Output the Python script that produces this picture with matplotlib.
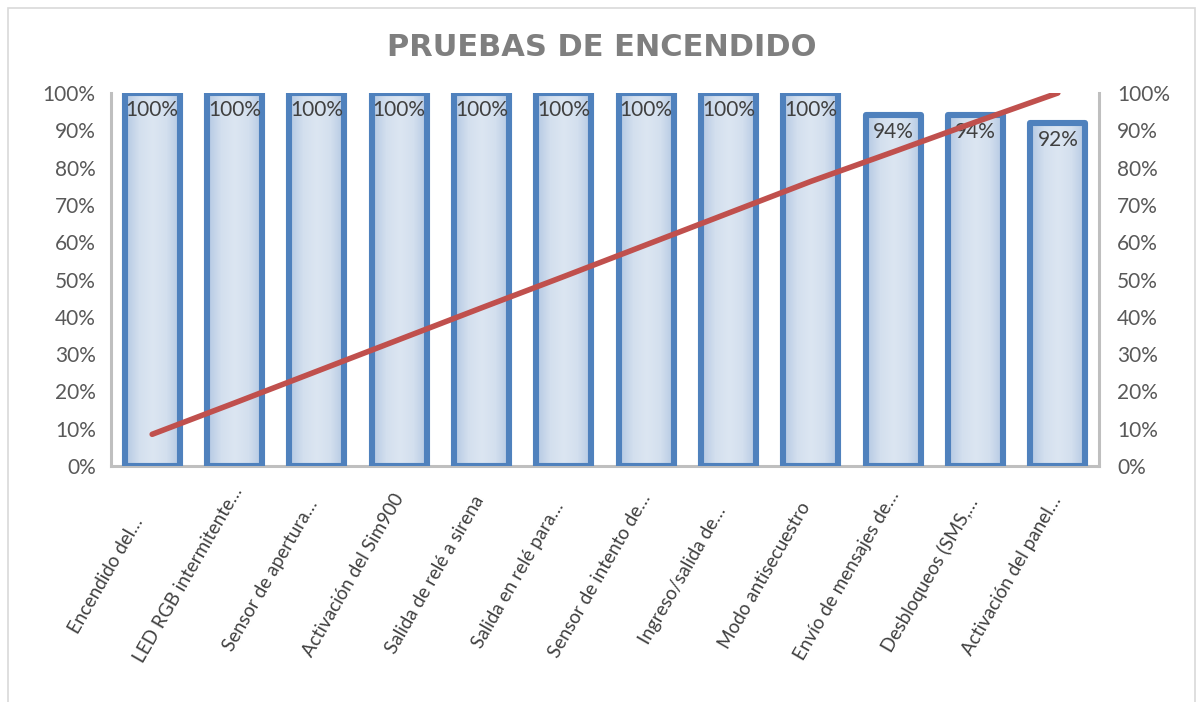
import matplotlib
matplotlib.use("Agg")
import numpy as np
import matplotlib.pyplot as plt
import matplotlib.transforms as mtransforms
from matplotlib.patches import Rectangle
from matplotlib.colors import LinearSegmentedColormap
from matplotlib.ticker import FuncFormatter, MultipleLocator

categories = [
    "Encendido del…", "LED RGB intermitente…", "Sensor de apertura…",
    "Activación del Sim900", "Salida de relé a sirena", "Salida en relé para…",
    "Sensor de intento de…", "Ingreso/salida de…", "Modo antisecuestro",
    "Envío de mensajes de…", "Desbloqueos (SMS,…", "Activación del panel…",
]
bar_values = [100, 100, 100, 100, 100, 100, 100, 100, 100, 94, 94, 92]
cumulative = [8.5, 16.9, 25.4, 33.9, 42.4, 50.8, 59.3, 67.8, 76.3, 84.2, 92.2, 100]
title = "PRUEBAS DE ENCENDIDO"

W, H = 1203, 702
fig = plt.figure(figsize=(W / 100, H / 100), dpi=100)
plt.rcParams["font.family"] = ["Lato", "DejaVu Sans"]

# outer frame
fig.patches.append(Rectangle((8 / W, -0.01), (1195 - 8) / W, 1 - 8 / H + 0.01,
                             transform=fig.transFigure, fill=False,
                             edgecolor="#D9D9D9", linewidth=1.2))

left, right = 111 / W, 1099 / W
bottom, top = 1 - 466 / H, 1 - 93 / H
ax = fig.add_axes([left, bottom, right - left, top - bottom])
ax2 = ax.twinx()

x = list(range(len(categories)))
bw = 0.67
bars = ax.bar(x, bar_values, width=bw, color="none", edgecolor="#4F81BD",
              linewidth=4.4, joinstyle="round", zorder=3)

# gradient fill inside bars (lighter centre, darker sides)
cmap = LinearSegmentedColormap.from_list("g", ["#B3C8E3", "#D3DFEE", "#DCE6F2", "#D3DFEE", "#B3C8E3"])
grad = np.linspace(0, 1, 64).reshape(1, -1)
for b in bars:
    x0, w, h = b.get_x(), b.get_width(), b.get_height()
    im = ax.imshow(grad, cmap=cmap, extent=(x0, x0 + w, 0, h), aspect="auto",
                   zorder=2, interpolation="bilinear")
    im.set_clip_path(b)

for xi, v in zip(x, bar_values):
    ax.text(xi, v - 1.8, f"{v}%", ha="center", va="top", fontsize=15,
            color="#404040", zorder=4)

ax.set_xlim(-0.5, len(categories) - 0.5)
ax.set_ylim(0, 100)
ax2.set_ylim(0, 100)
pct = FuncFormatter(lambda v, p: f"{v:.0f}%")
for a in (ax, ax2):
    a.yaxis.set_major_locator(MultipleLocator(10))
    a.yaxis.set_major_formatter(pct)
    a.tick_params(axis="y", length=0, labelsize=15, labelcolor="#595959")
    for s in a.spines.values():
        s.set_visible(False)
ax.tick_params(axis="y", pad=11)
ax2.tick_params(axis="y", pad=13)

ax2.plot(x, cumulative, color="#C0504D", linewidth=4, solid_capstyle="round", zorder=5)

# axis lines
ax.spines["left"].set_visible(True)
ax.spines["bottom"].set_visible(True)
ax2.spines["right"].set_visible(True)
for s in (ax.spines["left"], ax.spines["bottom"], ax2.spines["right"]):
    s.set_color("#BFBFBF")
    s.set_linewidth(2.2)
ax.spines["bottom"].set_zorder(1)

ax.set_xticks(x)
ax.set_xticklabels(categories, rotation=60, ha="center", va="center",
                   rotation_mode="anchor", fontsize=13.6, color="#404040")
ax.tick_params(axis="x", length=0, pad=109 * 0.72)
shift = mtransforms.ScaledTranslation(-46 / 100, 0, fig.dpi_scale_trans)
for lbl in ax.get_xticklabels():
    lbl.set_transform(lbl.get_transform() + shift)

fig.text(0.5, 1 - 47 / H, title, ha="center", va="center", fontsize=22,
         fontweight="bold", color="#7F7F7F", family=["DejaVu Sans"])

fig.savefig("out.png", dpi=100)
